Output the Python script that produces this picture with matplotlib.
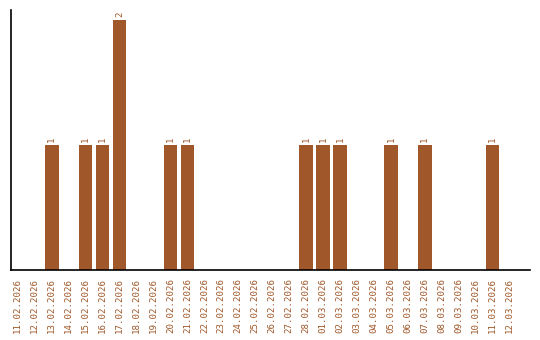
import pandas as pd
import matplotlib
matplotlib.use('Agg')
import matplotlib.pyplot as plt

# daily counts, 11.02.2026 - 12.03.2026
dates = pd.date_range('2026-02-11', '2026-03-12', freq='D')
labels = [d.strftime('%d.%m.%Y') for d in dates]
counts = [0, 0, 1, 0, 1, 1, 2, 0, 0, 1, 1, 0, 0, 0, 0, 0, 0, 1, 1, 1,
          0, 0, 1, 0, 1, 0, 0, 0, 1, 0]

color = '#A0582A'

fig = plt.figure(figsize=(5.4, 3.4), dpi=100)
ax = fig.add_axes([0.0204, 0.206, 0.961, 0.765])

x = range(len(labels))
bars = ax.bar(x, counts, width=0.8, color=color)

for xi, c in zip(x, counts):
    if c > 0:
        ax.text(xi, c + 0.02, str(c), rotation=90, ha='center', va='bottom',
                color=color, fontsize=6.6, family='DejaVu Sans Mono')

ax.set_xticks(list(x))
ax.set_xticklabels(labels, rotation=90, color=color, fontsize=6.6,
                   family='DejaVu Sans Mono')
ax.tick_params(axis='x', length=0, pad=6)
ax.set_yticks([])
ax.set_xlim(-0.4, 30.2)
ax.set_ylim(0, 2.08)

ax.spines['top'].set_visible(False)
ax.spines['right'].set_visible(False)
ax.spines['left'].set_linewidth(1.2)
ax.spines['bottom'].set_linewidth(1.2)

plt.savefig('out.png', dpi=100)
